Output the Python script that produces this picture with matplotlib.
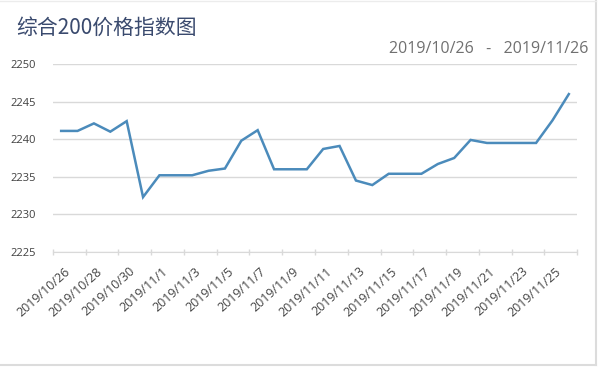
import matplotlib.pyplot as plt
import numpy as np
from matplotlib.lines import Line2D

plt.rcParams['font.family'] = ['Open Sans', 'Noto Sans CJK SC', 'DejaVu Sans']

# daily index values, 2019/10/26 .. 2019/11/26
dates = ["2019/10/%d" % d for d in range(26, 32)] + ["2019/11/%d" % d for d in range(1, 27)]
values = [2241.1, 2241.1, 2242.1, 2241.0, 2242.4, 2232.3, 2235.2, 2235.2,
          2235.2, 2235.8, 2236.1, 2239.8, 2241.2, 2236.0, 2236.0, 2236.0,
          2238.7, 2239.1, 2234.5, 2233.9, 2235.4, 2235.4, 2235.4, 2236.7,
          2237.5, 2239.9, 2239.5, 2239.5, 2239.5, 2239.5, 2242.5, 2246.0]
yticks = [2225, 2230, 2235, 2240, 2245, 2250]

fig = plt.figure(figsize=(6, 3.7), dpi=100)
ax = fig.add_axes([0.0883, 0.319, 0.8734, 0.508])

x = np.arange(len(values))
ax.plot(x, values, color="#4b8bbb", linewidth=1.8, solid_joinstyle="miter")

ax.set_xlim(-0.5, len(values) - 0.5)
ax.set_ylim(2225, 2250)
ax.set_yticks(yticks)
ax.set_yticklabels([str(v) for v in yticks], fontsize=8, color="#404040")
ax.grid(axis="y", color="#d9d9d9", linewidth=1)
ax.set_axisbelow(True)

# category axis: tick marks at category boundaries, labels under every 2nd day
ax.set_xticks(np.arange(-0.5, len(values), 2))
ax.set_xticklabels([])
ax.tick_params(axis="x", length=4, direction="inout", color="#d9d9d9", width=1)
ax.tick_params(axis="y", length=0, pad=12)
for i in range(0, len(values), 2):
    ax.text(i + 0.15, 2223.3, dates[i], rotation=42, ha="right", va="top",
            fontsize=9, color="#454545", rotation_mode="anchor")

for s in ["top", "right", "left"]:
    ax.spines[s].set_visible(False)
ax.spines["bottom"].set_color("#d9d9d9")

fig.text(0.027, 0.924, "综合200价格指数图", fontsize=15, color="#3a4a6e",
         family=['Noto Sans CJK SC', 'DejaVu Sans'], va="center")
fig.text(0.98, 0.868, "2019/10/26   -   2019/11/26", fontsize=11.5, color="#707070",
         ha="right", va="center")

# outer panel border
fig.add_artist(Line2D([0.993, 0.993], [0.013, 1.0], color="#dcdcdc", linewidth=1.5))
fig.add_artist(Line2D([0.0, 0.993], [0.013, 0.013], color="#dcdcdc", linewidth=1.5))
fig.add_artist(Line2D([0.0, 0.993], [0.997, 0.997], color="#ececec", linewidth=1))

fig.savefig("out.png", dpi=100)
